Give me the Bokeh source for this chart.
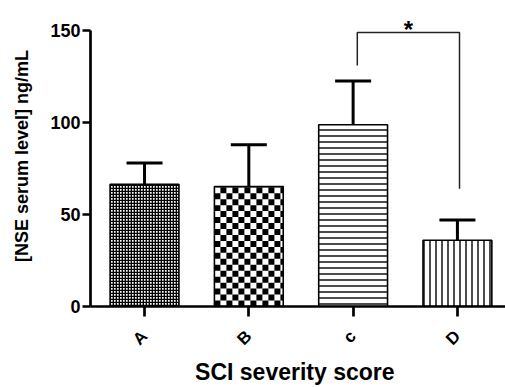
import numpy as np
from math import pi
from bokeh.plotting import figure
from bokeh.models import (Range1d, FixedTicker, Whisker, TeeHead, ColumnDataSource, Label)
from bokeh.embed import file_html
from bokeh.resources import INLINE

# ---- data ----
categories = ["A", "B", "c", "D"]
means = [66.5, 65.2, 98.8, 36.0]
sem = [11.6, 22.7, 23.8, 11.0]
y_ticks = [0, 50, 100, 150]
bracket_x = [2.04, 2.04, 3.02, 3.02]
bracket_y = [131, 149, 149, 64]
sig_text = "*"
x_title = "SCI  severity score"
y_title = "[NSE serum level]  ng/mL"

# ---- styles / layout ----
FONT = "Liberation Sans"
W, H = 505, 387
LEFT, BOTTOM = 90, 79
X0, X1 = -0.518, 3.461
Y0, Y1 = 0, 166.4
BAR_W = 0.66
px_x = (W - LEFT) / (X1 - X0)          # pixels per x unit
px_y = (H - BOTTOM) / (Y1 - Y0)        # pixels per y unit

x = np.arange(len(categories))
upper = (np.array(means) + np.array(sem)).tolist()
src = ColumnDataSource(dict(x=x.tolist(), top=means, upper=upper))

p = figure(width=W, height=H, output_backend="svg", toolbar_location=None,
           x_range=Range1d(X0, X1), y_range=Range1d(Y0, Y1),
           min_border_left=LEFT, min_border_right=0, min_border_top=0,
           min_border_bottom=BOTTOM)
p.outline_line_color = None
p.grid.visible = False

# bar fills / textures
p.vbar(x=[x[0]], top=[means[0]], width=BAR_W, fill_color="white", line_color=None,
       hatch_pattern="cross", hatch_scale=3, hatch_weight=1.7, hatch_color="black")
p.vbar(x=[x[1]], top=[means[1]], width=BAR_W, fill_color="white", line_color=None)
p.vbar(x=[x[2]], top=[means[2]], width=BAR_W, fill_color="white", line_color=None,
       hatch_pattern="horizontal_line", hatch_scale=6, hatch_weight=1.4, hatch_color="black")
p.vbar(x=[x[3]], top=[means[3]], width=BAR_W, fill_color="white", line_color=None,
       hatch_pattern="vertical_line", hatch_scale=6, hatch_weight=1.4, hatch_color="black")

# coarse checkerboard for bar B (cells of 6 px)
cell_dx, cell_dy = 6 / px_x, 6 / px_y
bl, br, bt = x[1] - BAR_W / 2, x[1] + BAR_W / 2, means[1]
ql, qr, qb, qt = [], [], [], []
nx = int(np.ceil((br - bl) / cell_dx))
ny = int(np.ceil(bt / cell_dy))
for i in range(nx):
    for j in range(ny):
        if (i + j) % 2 == 0:
            ql.append(bl + i * cell_dx)
            qr.append(min(bl + (i + 1) * cell_dx, br))
            qb.append(j * cell_dy)
            qt.append(min((j + 1) * cell_dy, bt))
p.quad(left=ql, right=qr, bottom=qb, top=qt, fill_color="black", line_color=None)

# outlines
p.vbar(x="x", top="top", width=BAR_W, source=src, fill_color=None,
       line_color="black", line_width=1.6)

p.add_layout(Whisker(source=src, base="x", lower="top", upper="upper",
                     dimension="height", line_width=3, line_color="black",
                     lower_head=None,
                     upper_head=TeeHead(size=36, line_width=3, line_color="black")))

p.line(bracket_x, bracket_y, line_width=1.5, line_color="#222222")
p.add_layout(Label(x=float(np.mean(bracket_x)), y=150.5, text=sig_text,
                   text_font=FONT, text_font_size="24px", text_font_style="bold",
                   text_color="black",
                   text_align="center", text_baseline="alphabetic"))

# y axis
p.yaxis.ticker = FixedTicker(ticks=y_ticks)
p.yaxis.bounds = (0, 150)
p.yaxis.axis_line_width = 2.7
p.yaxis.major_tick_line_width = 2.7
p.yaxis.major_tick_out = 8
p.yaxis.major_tick_in = 0
p.yaxis.minor_tick_out = 0
p.yaxis.minor_tick_in = 0
p.yaxis.major_label_text_font = FONT
p.yaxis.major_label_text_font_size = "18px"
p.yaxis.major_label_text_font_style = "bold"
p.yaxis.major_label_text_color = "black"
p.yaxis.major_label_standoff = 2
p.yaxis.axis_label = y_title
p.yaxis.axis_label_text_font = FONT
p.yaxis.axis_label_text_font_size = "18px"
p.yaxis.axis_label_text_font_style = "bold"
p.yaxis.axis_label_text_color = "black"
p.yaxis.axis_label_standoff = 15

# x axis
p.xaxis.ticker = FixedTicker(ticks=x.tolist())
p.xaxis.major_label_overrides = {int(i): c for i, c in zip(x, categories)}
p.xaxis.axis_line_width = 2.7
p.xaxis.major_tick_line_width = 2.7
p.xaxis.major_tick_out = 10
p.xaxis.major_tick_in = 0
p.xaxis.minor_tick_out = 0
p.xaxis.minor_tick_in = 0
p.xaxis.major_label_orientation = pi / 4
p.xaxis.major_label_text_font = FONT
p.xaxis.major_label_text_font_size = "17px"
p.xaxis.major_label_text_font_style = "bold"
p.xaxis.major_label_text_color = "black"
p.xaxis.major_label_standoff = 17
p.xaxis.axis_label = x_title
p.xaxis.axis_label_text_font = FONT
p.xaxis.axis_label_text_font_size = "23px"
p.xaxis.axis_label_text_font_style = "bold"
p.xaxis.axis_label_text_color = "black"
p.xaxis.axis_label_standoff = 0

open("out.html", "w").write(file_html(p, INLINE))
